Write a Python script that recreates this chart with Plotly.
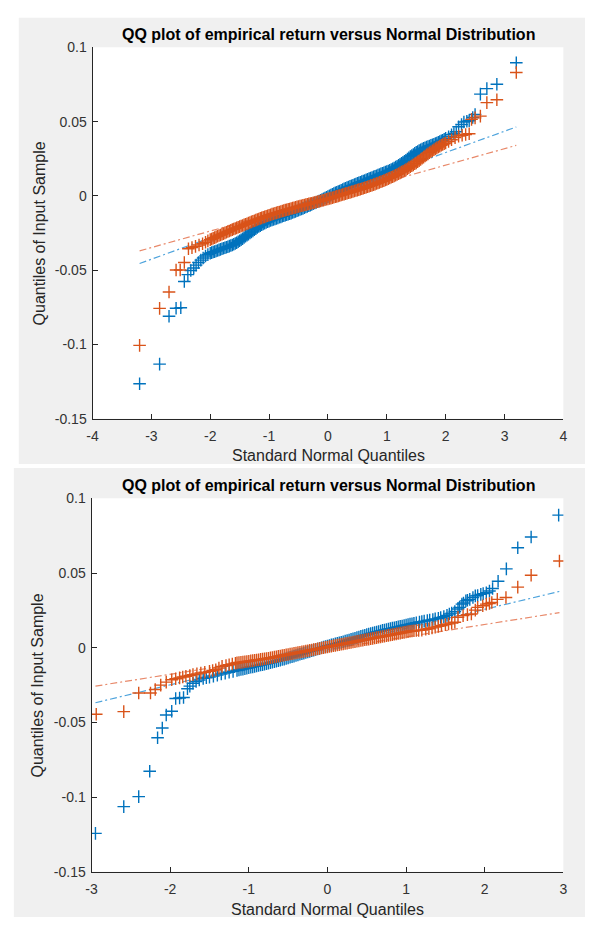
import plotly.graph_objects as go

# ======================= data =======================
# ---------- Top panel ----------
top_mid_x = [-2.000, -1.975, -1.950, -1.925, -1.900, -1.875, -1.850, -1.825,
             -1.800, -1.775, -1.750, -1.725, -1.700, -1.675, -1.650, -1.625,
             -1.600, -1.575, -1.550, -1.525, -1.500, -1.475, -1.450, -1.425,
             -1.400, -1.375, -1.350, -1.325, -1.300, -1.275, -1.250, -1.225,
             -1.200, -1.175, -1.150, -1.125, -1.100, -1.075, -1.050, -1.025,
             -1.000, -0.975, -0.950, -0.925, -0.900, -0.875, -0.850, -0.825,
             -0.800, -0.775, -0.750, -0.725, -0.700, -0.675, -0.650, -0.625,
             -0.600, -0.575, -0.550, -0.525, -0.500, -0.475, -0.450, -0.425,
             -0.400, -0.375, -0.350, -0.325, -0.300, -0.275, -0.250, -0.225,
             -0.200, -0.175, -0.150, -0.125, -0.100, -0.075, -0.050, -0.025,
             0.000, 0.025, 0.050, 0.075, 0.100, 0.125, 0.150, 0.175,
             0.200, 0.225, 0.250, 0.275, 0.300, 0.325, 0.350, 0.375,
             0.400, 0.425, 0.450, 0.475, 0.500, 0.525, 0.550, 0.575,
             0.600, 0.625, 0.650, 0.675, 0.700, 0.725, 0.750, 0.775,
             0.800, 0.825, 0.850, 0.875, 0.900, 0.925, 0.950, 0.975,
             1.000, 1.025, 1.050, 1.075, 1.100, 1.125, 1.150, 1.175,
             1.200, 1.225, 1.250, 1.275, 1.300, 1.325, 1.350, 1.375,
             1.400, 1.425, 1.450, 1.475, 1.500, 1.525, 1.550, 1.575,
             1.600, 1.625, 1.650, 1.675, 1.700, 1.725, 1.750, 1.775,
             1.800, 1.825, 1.850, 1.875, 1.900, 1.925, 1.950, 1.975,
             2.000]

top_blue_left_x = [-3.20, -2.86, -2.70, -2.58, -2.50, -2.44, -2.38, -2.33, -2.28, -2.24, -2.20, -2.16, -2.12, -2.08, -2.04]
top_blue_left_y = [-0.1264, -0.1132, -0.0810, -0.0756, -0.0753, -0.0576, -0.0530, -0.0502, -0.0485, -0.0466, -0.0448, -0.0432, -0.0418, -0.0405, -0.0395]
top_blue_mid_y = [-0.0386, -0.0382, -0.0378, -0.0375, -0.0371, -0.0367, -0.0363, -0.0360,
                  -0.0356, -0.0352, -0.0349, -0.0346, -0.0342, -0.0338, -0.0334, -0.0330,
                  -0.0325, -0.0320, -0.0315, -0.0309, -0.0302, -0.0295, -0.0288, -0.0280,
                  -0.0272, -0.0265, -0.0258, -0.0250, -0.0243, -0.0236, -0.0228, -0.0220,
                  -0.0213, -0.0206, -0.0200, -0.0194, -0.0189, -0.0184, -0.0179, -0.0174,
                  -0.0170, -0.0166, -0.0162, -0.0158, -0.0155, -0.0151, -0.0148, -0.0144,
                  -0.0141, -0.0137, -0.0134, -0.0130, -0.0127, -0.0123, -0.0120, -0.0116,
                  -0.0112, -0.0108, -0.0104, -0.0100, -0.0096, -0.0092, -0.0088, -0.0084,
                  -0.0080, -0.0075, -0.0071, -0.0066, -0.0062, -0.0057, -0.0053, -0.0048,
                  -0.0044, -0.0039, -0.0035, -0.0030, -0.0025, -0.0020, -0.0015, -0.0010,
                  -0.0005, 0.0000, 0.0005, 0.0010, 0.0015, 0.0020, 0.0024, 0.0029,
                  0.0033, 0.0038, 0.0042, 0.0047, 0.0051, 0.0056, 0.0060, 0.0064,
                  0.0068, 0.0072, 0.0076, 0.0080, 0.0084, 0.0088, 0.0092, 0.0096,
                  0.0100, 0.0104, 0.0108, 0.0112, 0.0116, 0.0120, 0.0124, 0.0128,
                  0.0132, 0.0136, 0.0140, 0.0144, 0.0148, 0.0152, 0.0156, 0.0160,
                  0.0164, 0.0168, 0.0173, 0.0178, 0.0183, 0.0188, 0.0194, 0.0200,
                  0.0206, 0.0212, 0.0219, 0.0226, 0.0233, 0.0240, 0.0248, 0.0256,
                  0.0264, 0.0272, 0.0279, 0.0286, 0.0293, 0.0299, 0.0305, 0.0310,
                  0.0315, 0.0320, 0.0324, 0.0328, 0.0332, 0.0336, 0.0340, 0.0344,
                  0.0348, 0.0352, 0.0356, 0.0360, 0.0365, 0.0370, 0.0375, 0.0381,
                  0.0387]
top_blue_right_x = [2.05, 2.10, 2.14, 2.18, 2.22, 2.27, 2.31, 2.36, 2.40, 2.46, 2.50, 2.59, 2.70, 2.87, 3.20]
top_blue_right_y = [0.0398, 0.0412, 0.0420, 0.0432, 0.0465, 0.0480, 0.0497, 0.0502, 0.0506, 0.0528, 0.0548, 0.0685, 0.0722, 0.0751, 0.0896]

top_orange_left_x = [-3.20, -2.86, -2.70, -2.58, -2.51, -2.44, -2.37, -2.31, -2.25, -2.19, -2.13, -2.08, -2.04]
top_orange_left_y = [-0.1006, -0.0757, -0.0647, -0.0499, -0.0499, -0.0448, -0.0356, -0.0348, -0.0340, -0.0330, -0.0322, -0.0312, -0.0303]
top_orange_mid_y = [-0.0294, -0.0290, -0.0285, -0.0281, -0.0276, -0.0272, -0.0267, -0.0263,
                    -0.0258, -0.0254, -0.0249, -0.0245, -0.0240, -0.0236, -0.0231, -0.0227,
                    -0.0223, -0.0219, -0.0215, -0.0211, -0.0207, -0.0203, -0.0199, -0.0195,
                    -0.0191, -0.0187, -0.0183, -0.0179, -0.0175, -0.0171, -0.0167, -0.0163,
                    -0.0159, -0.0155, -0.0151, -0.0148, -0.0144, -0.0141, -0.0137, -0.0134,
                    -0.0130, -0.0127, -0.0123, -0.0120, -0.0117, -0.0114, -0.0111, -0.0108,
                    -0.0105, -0.0102, -0.0099, -0.0096, -0.0093, -0.0091, -0.0088, -0.0085,
                    -0.0082, -0.0080, -0.0077, -0.0074, -0.0071, -0.0069, -0.0066, -0.0064,
                    -0.0061, -0.0059, -0.0056, -0.0054, -0.0051, -0.0049, -0.0046, -0.0044,
                    -0.0041, -0.0039, -0.0036, -0.0034, -0.0031, -0.0029, -0.0026, -0.0023,
                    -0.0020, -0.0018, -0.0015, -0.0012, -0.0009, -0.0006, -0.0003, 0.0000,
                    0.0003, 0.0006, 0.0009, 0.0012, 0.0015, 0.0018, 0.0021, 0.0024,
                    0.0027, 0.0030, 0.0033, 0.0036, 0.0039, 0.0042, 0.0045, 0.0048,
                    0.0051, 0.0055, 0.0058, 0.0062, 0.0065, 0.0069, 0.0072, 0.0076,
                    0.0079, 0.0083, 0.0087, 0.0091, 0.0095, 0.0099, 0.0103, 0.0107,
                    0.0111, 0.0116, 0.0120, 0.0125, 0.0129, 0.0134, 0.0139, 0.0144,
                    0.0149, 0.0155, 0.0160, 0.0166, 0.0171, 0.0177, 0.0183, 0.0190,
                    0.0196, 0.0203, 0.0209, 0.0216, 0.0222, 0.0230, 0.0237, 0.0245,
                    0.0253, 0.0261, 0.0268, 0.0276, 0.0283, 0.0290, 0.0297, 0.0304,
                    0.0311, 0.0317, 0.0323, 0.0329, 0.0335, 0.0341, 0.0346, 0.0351,
                    0.0356]
top_orange_right_x = [2.05, 2.10, 2.16, 2.22, 2.28, 2.34, 2.40, 2.44, 2.50, 2.59, 2.70, 2.87, 3.20]
top_orange_right_y = [0.0366, 0.0378, 0.0392, 0.0402, 0.0408, 0.0413, 0.0418, 0.0515, 0.0525, 0.0537, 0.0628, 0.0647, 0.0830]

top_ref_x = [-3.2, 3.2]
top_ref_blue_y = [-0.0455, 0.0464]
top_ref_orange_y = [-0.0370, 0.0340]

# ---------- Bottom panel ----------
bot_mid_x = [-1.150, -1.125, -1.100, -1.075, -1.050, -1.025, -1.000, -0.975,
             -0.950, -0.925, -0.900, -0.875, -0.850, -0.825, -0.800, -0.775,
             -0.750, -0.725, -0.700, -0.675, -0.650, -0.625, -0.600, -0.575,
             -0.550, -0.525, -0.500, -0.475, -0.450, -0.425, -0.400, -0.375,
             -0.350, -0.325, -0.300, -0.275, -0.250, -0.225, -0.200, -0.175,
             -0.150, -0.125, -0.100, -0.075, -0.050, -0.025, 0.000, 0.025,
             0.050, 0.075, 0.100, 0.125, 0.150, 0.175, 0.200, 0.225,
             0.250, 0.275, 0.300, 0.325, 0.350, 0.375, 0.400, 0.425,
             0.450, 0.475, 0.500, 0.525, 0.550, 0.575, 0.600, 0.625,
             0.650, 0.675, 0.700, 0.725, 0.750, 0.775, 0.800, 0.825,
             0.850, 0.875, 0.900, 0.925, 0.950, 0.975, 1.000, 1.025,
             1.050, 1.075, 1.100]

bot_blue_left_x = [-2.95, -2.59, -2.40, -2.26, -2.16, -2.10, -2.05, -1.98, -1.93, -1.88, -1.83, -1.78, -1.75,
                   -1.71, -1.67, -1.63, -1.58, -1.54, -1.50, -1.45, -1.40, -1.35, -1.30, -1.25, -1.20]
bot_blue_left_y = [-0.1243, -0.1064, -0.0997, -0.0827, -0.0603, -0.0537, -0.0450, -0.0425, -0.0340, -0.0336, -0.0333, -0.0275, -0.0257,
                   -0.0238, -0.0226, -0.0216, -0.0205, -0.0201, -0.0197, -0.0190, -0.0183, -0.0176, -0.0170, -0.0164, -0.0158]
bot_blue_mid_y = [-0.0152, -0.0149, -0.0146, -0.0143, -0.0140, -0.0137, -0.0134, -0.0131,
                  -0.0128, -0.0125, -0.0122, -0.0119, -0.0116, -0.0113, -0.0110, -0.0107,
                  -0.0104, -0.0100, -0.0097, -0.0093, -0.0090, -0.0086, -0.0083, -0.0079,
                  -0.0076, -0.0072, -0.0068, -0.0064, -0.0060, -0.0056, -0.0052, -0.0048,
                  -0.0044, -0.0040, -0.0036, -0.0032, -0.0028, -0.0024, -0.0020, -0.0016,
                  -0.0012, -0.0008, -0.0004, 0.0000, 0.0004, 0.0008, 0.0012, 0.0015,
                  0.0019, 0.0022, 0.0026, 0.0029, 0.0033, 0.0036, 0.0040, 0.0044,
                  0.0048, 0.0052, 0.0056, 0.0060, 0.0064, 0.0068, 0.0072, 0.0076,
                  0.0080, 0.0084, 0.0088, 0.0091, 0.0095, 0.0098, 0.0102, 0.0105,
                  0.0109, 0.0112, 0.0116, 0.0119, 0.0122, 0.0125, 0.0128, 0.0131,
                  0.0134, 0.0137, 0.0140, 0.0143, 0.0146, 0.0149, 0.0152, 0.0155,
                  0.0158, 0.0161, 0.0164]
bot_blue_right_x = [1.13, 1.17, 1.20, 1.23, 1.27, 1.30, 1.34, 1.37, 1.41, 1.44, 1.48, 1.52, 1.55, 1.58, 1.62, 1.66, 1.68,
                    1.71, 1.73, 1.76, 1.78, 1.81, 1.85, 1.88, 1.91, 1.95, 1.98, 2.02, 2.06, 2.10, 2.17, 2.275, 2.42, 2.59, 2.94]
bot_blue_right_y = [0.0167, 0.0172, 0.0175, 0.0178, 0.0182, 0.0185, 0.0189, 0.0193, 0.0197, 0.0202, 0.0208, 0.0217, 0.0226, 0.0232, 0.0243, 0.0259, 0.0270,
                    0.0292, 0.0300, 0.0314, 0.0318, 0.0324, 0.0336, 0.0347, 0.0350, 0.0357, 0.0362, 0.0368, 0.0380, 0.0397, 0.0445, 0.0528, 0.0669, 0.0741, 0.0888]

bot_orange_left_x = [-2.94, -2.59, -2.40, -2.25, -2.19, -2.12, -2.05, -1.98, -1.93, -1.88, -1.84, -1.80, -1.75,
                     -1.71, -1.66, -1.61, -1.56, -1.50, -1.46, -1.42, -1.38, -1.34, -1.29, -1.25, -1.21, -1.17]
bot_orange_left_y = [-0.0445, -0.0428, -0.0303, -0.0303, -0.0280, -0.0250, -0.0230, -0.0214, -0.0208, -0.0202, -0.0196, -0.0191, -0.0186,
                     -0.0180, -0.0175, -0.0169, -0.0164, -0.0158, -0.0152, -0.0147, -0.0136, -0.0125, -0.0119, -0.0114, -0.0109, -0.0104]
bot_orange_mid_y = [-0.0101, -0.0099, -0.0098, -0.0096, -0.0094, -0.0092, -0.0090, -0.0088,
                    -0.0086, -0.0084, -0.0082, -0.0080, -0.0078, -0.0076, -0.0074, -0.0072,
                    -0.0070, -0.0067, -0.0065, -0.0062, -0.0060, -0.0057, -0.0055, -0.0052,
                    -0.0050, -0.0047, -0.0045, -0.0042, -0.0040, -0.0037, -0.0035, -0.0032,
                    -0.0030, -0.0027, -0.0025, -0.0022, -0.0020, -0.0017, -0.0015, -0.0012,
                    -0.0010, -0.0007, -0.0005, -0.0002, 0.0000, 0.0003, 0.0005, 0.0008,
                    0.0010, 0.0013, 0.0015, 0.0018, 0.0020, 0.0023, 0.0025, 0.0028,
                    0.0030, 0.0033, 0.0035, 0.0038, 0.0040, 0.0043, 0.0045, 0.0048,
                    0.0050, 0.0053, 0.0055, 0.0058, 0.0060, 0.0063, 0.0065, 0.0068,
                    0.0070, 0.0073, 0.0075, 0.0078, 0.0080, 0.0083, 0.0085, 0.0088,
                    0.0090, 0.0093, 0.0095, 0.0098, 0.0100, 0.0103, 0.0105, 0.0108,
                    0.0110, 0.0112, 0.0114]
bot_orange_right_x = [1.13, 1.16, 1.20, 1.25, 1.29, 1.33, 1.37, 1.41, 1.45, 1.50, 1.54, 1.58, 1.62, 1.66,
                      1.725, 1.78, 1.83, 1.88, 1.91, 1.975, 2.02, 2.06, 2.09, 2.16, 2.27, 2.42, 2.59, 2.95]
bot_orange_right_y = [0.0115, 0.0116, 0.0118, 0.0124, 0.0127, 0.0133, 0.0138, 0.0143, 0.0149, 0.0155, 0.0160, 0.0166, 0.0171, 0.0204,
                      0.0215, 0.0222, 0.0226, 0.0252, 0.0270, 0.0281, 0.0292, 0.0296, 0.0303, 0.0324, 0.0336, 0.0406, 0.0485, 0.0581]

bot_ref_x = [-2.95, 2.95]
bot_ref_blue_y = [-0.0368, 0.0377]
bot_ref_orange_y = [-0.0257, 0.0235]

# ---------- ticks & text ----------
top_xticks = [-4, -3, -2, -1, 0, 1, 2, 3, 4]
top_xticktext = ["-4", "-3", "-2", "-1", "0", "1", "2", "3", "4"]
bot_xticks = [-3, -2, -1, 0, 1, 2, 3]
bot_xticktext = ["-3", "-2", "-1", "0", "1", "2", "3"]
yticks = [-0.15, -0.1, -0.05, 0, 0.05, 0.1]
yticktext = ["-0.15", "-0.1", "-0.05", "0", "0.05", "0.1"]

title_text = "QQ plot of empirical return versus Normal Distribution"
xlabel = "Standard Normal Quantiles"
ylabel = "Quantiles of Input Sample"

# ======================= assemble =======================
for a, b in [(top_blue_left_x, top_blue_left_y), (top_mid_x, top_blue_mid_y), (top_blue_right_x, top_blue_right_y),
             (top_orange_left_x, top_orange_left_y), (top_mid_x, top_orange_mid_y), (top_orange_right_x, top_orange_right_y),
             (bot_blue_left_x, bot_blue_left_y), (bot_mid_x, bot_blue_mid_y), (bot_blue_right_x, bot_blue_right_y),
             (bot_orange_left_x, bot_orange_left_y), (bot_mid_x, bot_orange_mid_y), (bot_orange_right_x, bot_orange_right_y)]:
    assert len(a) == len(b), (len(a), len(b))

top_blue_x = top_blue_left_x + top_mid_x + top_blue_right_x
top_blue_y = top_blue_left_y + top_blue_mid_y + top_blue_right_y
top_orange_x = top_orange_left_x + top_mid_x + top_orange_right_x
top_orange_y = top_orange_left_y + top_orange_mid_y + top_orange_right_y
bot_blue_x = bot_blue_left_x + bot_mid_x + bot_blue_right_x
bot_blue_y = bot_blue_left_y + bot_blue_mid_y + bot_blue_right_y
bot_orange_x = bot_orange_left_x + bot_mid_x + bot_orange_right_x
bot_orange_y = bot_orange_left_y + bot_orange_mid_y + bot_orange_right_y

# ======================= styling =======================
W, H = 589, 925
BLUE = "#0072BD"
ORANGE = "#D95319"
BLUE_REF = "#4DA3DC"
ORANGE_REF = "#E8896A"
AX = "#262626"
FONT = "Liberation Sans, Arial, sans-serif"
GRAY = "#F0F0F0"


def px_x(p):
    return p / W


def px_y(p):
    return 1 - p / H


top_dom_x = [px_x(88), px_x(567)]
top_dom_y = [px_y(418), px_y(40)]
bot_dom_x = [px_x(87), px_x(567)]
bot_dom_y = [px_y(879), px_y(499)]

fig = go.Figure()


def add_panel(xs_b, ys_b, xs_o, ys_o, rx, rby, roy, xa, ya):
    dash = "7px,3px,2px,3px"
    fig.add_trace(go.Scatter(x=rx, y=rby, mode="lines", xaxis=xa, yaxis=ya,
                             line=dict(color=BLUE_REF, width=1.2, dash=dash),
                             showlegend=False, hoverinfo="skip"))
    fig.add_trace(go.Scatter(x=rx, y=roy, mode="lines", xaxis=xa, yaxis=ya,
                             line=dict(color=ORANGE_REF, width=1.2, dash=dash),
                             showlegend=False, hoverinfo="skip"))
    fig.add_trace(go.Scatter(x=xs_b, y=ys_b, mode="markers", xaxis=xa, yaxis=ya,
                             marker=dict(symbol="cross-thin", size=9, line=dict(color=BLUE, width=1.4)),
                             showlegend=False))
    fig.add_trace(go.Scatter(x=xs_o, y=ys_o, mode="markers", xaxis=xa, yaxis=ya,
                             marker=dict(symbol="cross-thin", size=9, line=dict(color=ORANGE, width=1.4)),
                             showlegend=False))


add_panel(top_blue_x, top_blue_y, top_orange_x, top_orange_y,
          top_ref_x, top_ref_blue_y, top_ref_orange_y, "x", "y")
add_panel(bot_blue_x, bot_blue_y, bot_orange_x, bot_orange_y,
          bot_ref_x, bot_ref_blue_y, bot_ref_orange_y, "x2", "y2")

axis_common = dict(showgrid=False, zeroline=False, showline=True, linecolor=AX, linewidth=1,
                   ticks="inside", ticklen=5, tickwidth=1, tickcolor=AX, mirror=False,
                   tickfont=dict(family=FONT, size=14, color="#333333"), tickmode="array")

fig.update_layout(
    width=W, height=H,
    margin=dict(l=0, r=0, t=0, b=0),
    paper_bgcolor="white", plot_bgcolor="white",
    xaxis=dict(domain=top_dom_x, range=[-4, 4], anchor="y", tickvals=top_xticks, ticktext=top_xticktext,
               ticklabelstandoff=4, **axis_common),
    yaxis=dict(domain=top_dom_y, range=[-0.15, 0.1], anchor="x", tickvals=yticks, ticktext=yticktext,
               ticklabelstandoff=2, **axis_common),
    xaxis2=dict(domain=bot_dom_x, range=[-3, 3], anchor="y2", tickvals=bot_xticks, ticktext=bot_xticktext,
                ticklabelstandoff=4, **axis_common),
    yaxis2=dict(domain=bot_dom_y, range=[-0.15, 0.1], anchor="x2", tickvals=yticks, ticktext=yticktext,
                ticklabelstandoff=2, **axis_common),
    shapes=[
        dict(type="rect", xref="paper", yref="paper", x0=px_x(13), x1=1, y0=px_y(464), y1=px_y(10),
             fillcolor=GRAY, line=dict(width=0), layer="below"),
        dict(type="rect", xref="paper", yref="paper", x0=px_x(8), x1=1, y0=0, y1=px_y(468),
             fillcolor=GRAY, line=dict(width=0), layer="below"),
        dict(type="rect", xref="paper", yref="paper", x0=top_dom_x[0], x1=top_dom_x[1],
             y0=top_dom_y[0], y1=top_dom_y[1], fillcolor="white", line=dict(width=0), layer="below"),
        dict(type="rect", xref="paper", yref="paper", x0=bot_dom_x[0], x1=bot_dom_x[1],
             y0=bot_dom_y[0], y1=bot_dom_y[1], fillcolor="white", line=dict(width=0), layer="below"),
    ],
    annotations=[
        dict(text="<b>" + title_text + "</b>", x=px_x(328), y=px_y(27), xref="paper", yref="paper",
             showarrow=False, xanchor="center", yanchor="middle",
             font=dict(family=FONT, size=16, color="black")),
        dict(text=xlabel, x=px_x(328), y=px_y(455), xref="paper", yref="paper",
             showarrow=False, xanchor="center", yanchor="middle",
             font=dict(family=FONT, size=16, color=AX)),
        dict(text=ylabel, x=px_x(34), y=px_y(229), xref="paper", yref="paper", textangle=-90,
             showarrow=False, xanchor="center", yanchor="middle",
             font=dict(family=FONT, size=16, color=AX)),
        dict(text="<b>" + title_text + "</b>", x=px_x(328), y=px_y(486), xref="paper", yref="paper",
             showarrow=False, xanchor="center", yanchor="middle",
             font=dict(family=FONT, size=16, color="black")),
        dict(text=xlabel, x=px_x(327), y=px_y(917), xref="paper", yref="paper",
             showarrow=False, xanchor="center", yanchor="middle",
             font=dict(family=FONT, size=16, color=AX)),
        dict(text=ylabel, x=px_x(32), y=px_y(689), xref="paper", yref="paper", textangle=-90,
             showarrow=False, xanchor="center", yanchor="middle",
             font=dict(family=FONT, size=16, color=AX)),
    ],
)

fig.write_html("out.html")
